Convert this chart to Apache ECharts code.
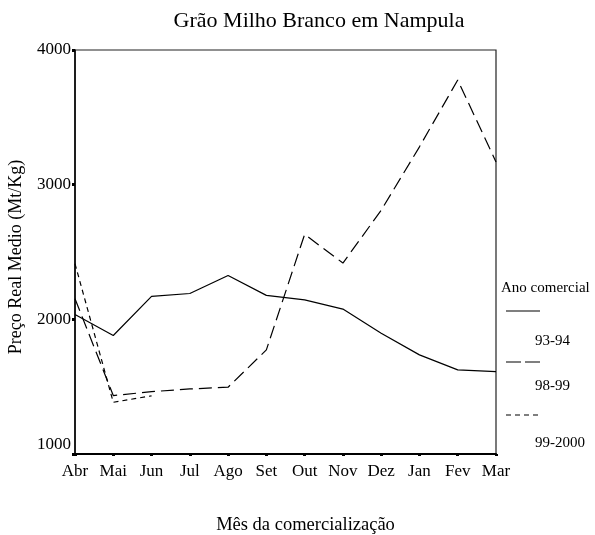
<!DOCTYPE html>
<html>
<head>
<meta charset="utf-8">
<script src="https://cdn.jsdelivr.net/npm/echarts@6/dist/echarts.min.js"></script>
<style>
  html, body { margin: 0; padding: 0; background: #fff; }
  #main { width: 595px; height: 535px; }
</style>
</head>
<body>
<div id="main"></div>
<script>
  // dados
  const meses = ['Abr', 'Mai', 'Jun', 'Jul', 'Ago', 'Set', 'Out', 'Nov', 'Dez', 'Jan', 'Fev', 'Mar']
  const ano9394 = [2036, 1880, 2170, 2192, 2326, 2178, 2145, 2076, 1897, 1736, 1625, 1612]
  const ano9899 = [2153, 1434, 1463, 1483, 1496, 1773, 2631, 2418, 2810, 3281, 3777, 3169]
  const ano9900 = [2413, 1384, 1432, null, null, null, null, null, null, null, null, null]
  const yTicks = [1000, 2000, 3000, 4000]

  const serif = 'Liberation Serif'
  const chart = echarts.init(document.getElementById('main'))

  function serie (name, data, dash) {
    return {
      name: name,
      type: 'line',
      data: data,
      symbol: 'none',
      connectNulls: false,
      lineStyle: { color: '#000', width: 1.2, type: dash }
    }
  }

  const option = {
    backgroundColor: '#fff',
    animation: false,
    title: {
      text: 'Grão Milho Branco em Nampula',
      left: 314,
      top: 5,
      textAlign: 'center',
      textStyle: { fontFamily: serif, fontSize: 22, fontWeight: 'normal', color: '#000' }
    },
    grid: {
      left: 75,
      right: 99,
      top: 50,
      bottom: 81,
      outerBoundsMode: 'none',
      containLabel: false,
      show: true,
      borderColor: '#222',
      borderWidth: 1.2
    },
    xAxis: {
      type: 'category',
      data: meses,
      boundaryGap: false,
      name: 'Mês da comercialização',
      nameLocation: 'middle',
      nameGap: 62,
      nameTextStyle: { fontFamily: serif, fontSize: 18.5, color: '#000', padding: [0, 0, 0, 40] },
      axisLine: { lineStyle: { color: '#000', width: 2 } },
      axisTick: { show: true, length: 2, lineStyle: { color: '#000', width: 3 } },
      axisLabel: { fontFamily: serif, fontSize: 17, color: '#000', margin: 9, interval: 0 },
      splitLine: { show: false }
    },
    yAxis: {
      type: 'value',
      min: yTicks[0],
      max: yTicks[yTicks.length - 1],
      interval: 1000,
      name: 'Preço Real Medio (Mt/Kg)',
      nameLocation: 'middle',
      nameGap: 50,
      nameTextStyle: { fontFamily: serif, fontSize: 18, color: '#000', padding: [0, 10, 0, 0] },
      axisLine: { show: true, lineStyle: { color: '#000', width: 1.5 } },
      axisTick: { show: true, length: 3, lineStyle: { color: '#000', width: 3 } },
      axisLabel: {
        fontFamily: serif,
        fontSize: 17,
        color: '#000',
        margin: 4,
        formatter: function (v) {
          return v === yTicks[0] ? '{lo|' + v + '}' : String(v)
        },
        rich: {
          lo: { fontFamily: serif, fontSize: 17, color: '#000', padding: [0, 0, 18, 0] }
        }
      },
      splitLine: { show: false }
    },
    series: [
      serie('93-94', ano9394, 'solid'),
      serie('98-99', ano9899, [13, 6]),
      serie('99-2000', ano9900, [5, 4])
    ],
    graphic: [
      { type: 'text', left: 501, top: 281, style: { text: 'Ano comercial', font: '15px "Liberation Serif"', fill: '#000' } },
      { type: 'line', shape: { x1: 506, y1: 311, x2: 540, y2: 311 }, style: { stroke: '#000', lineWidth: 1.2 } },
      { type: 'text', left: 535, top: 334, style: { text: '93-94', font: '15px "Liberation Serif"', fill: '#000' } },
      { type: 'line', shape: { x1: 506, y1: 362, x2: 540, y2: 362 }, style: { stroke: '#000', lineWidth: 1.2, lineDash: [15, 4] } },
      { type: 'text', left: 535, top: 379, style: { text: '98-99', font: '15px "Liberation Serif"', fill: '#000' } },
      { type: 'line', shape: { x1: 506, y1: 415, x2: 542, y2: 415 }, style: { stroke: '#000', lineWidth: 1.2, lineDash: [5, 4] } },
      { type: 'text', left: 535, top: 436, style: { text: '99-2000', font: '15px "Liberation Serif"', fill: '#000' } }
    ]
  }
  chart.setOption(option)
</script>
</body>
</html>
